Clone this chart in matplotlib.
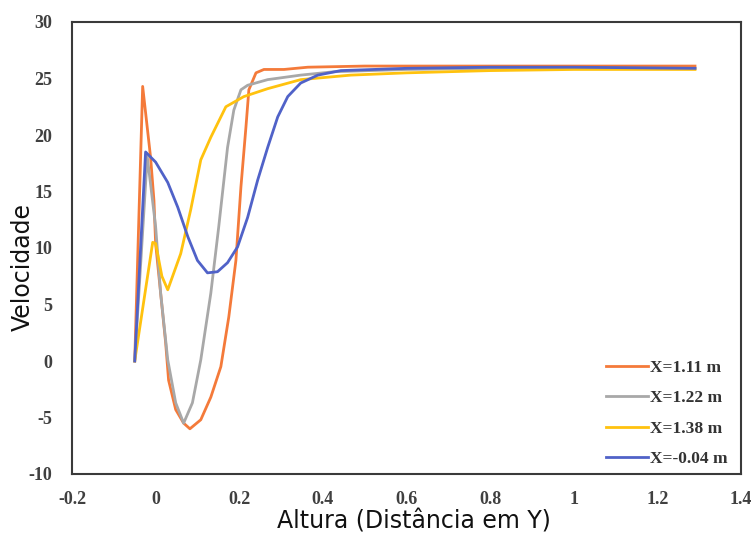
import matplotlib
matplotlib.use("Agg")
import matplotlib.pyplot as plt

plt.rcParams["axes.unicode_minus"] = False

# Data
x_111 = [-0.05, -0.031, -0.012, -0.004, 0.0, 0.012, 0.024, 0.031, 0.048, 0.067, 0.082, 0.108,
         0.132, 0.156, 0.175, 0.192, 0.204, 0.216, 0.223, 0.24, 0.259, 0.307, 0.364, 0.5, 0.7,
         0.9, 1.1, 1.29]
y_111 = [0, 24.3, 18, 14.2, 10.4, 6, 1.6, -1.7, -4.3, -5.5, -6.0, -5.2,
         -3.2, -0.5, 3.9, 8.9, 15.4, 20.7, 24, 25.5, 25.8, 25.8, 26.0, 26.1, 26.1,
         26.1, 26.1, 26.1]

x_122 = [-0.05, -0.02, 0.0, 0.012, 0.029, 0.048, 0.067, 0.088, 0.108, 0.132, 0.151, 0.172,
         0.187, 0.204, 0.22, 0.268, 0.347, 0.427, 0.6, 0.8, 1.0, 1.29]
y_122 = [0, 18.1, 11.9, 6, 0.1, -3.7, -5.5, -3.7, 0.1, 6, 11.9, 18.9,
         22.2, 24, 24.4, 24.9, 25.3, 25.6, 25.8, 25.9, 25.9, 25.9]

x_138 = [-0.05, -0.007, 0.0, 0.015, 0.029, 0.06, 0.084, 0.108, 0.132, 0.168, 0.211, 0.268,
         0.347, 0.467, 0.6, 0.8, 1.0, 1.29]
y_138 = [0, 10.5, 10.4, 7.5, 6.3, 9.5, 13.4, 17.8, 19.8, 22.5, 23.4, 24.1,
         24.9, 25.3, 25.5, 25.7, 25.8, 25.8]

x_004 = [-0.05, -0.024, 0.0, 0.029, 0.053, 0.077, 0.1, 0.124, 0.148, 0.172, 0.196, 0.22,
         0.244, 0.268, 0.292, 0.316, 0.347, 0.388, 0.443, 0.6, 0.8, 1.0, 1.29]
y_004 = [0, 18.5, 17.6, 15.8, 13.6, 11, 8.9, 7.8, 7.9, 8.7, 10.1, 12.7,
         16, 18.9, 21.6, 23.4, 24.6, 25.3, 25.7, 25.9, 26.0, 26.0, 25.9]

labels = ["X=1.11 m", "X=1.22 m", "X=1.38 m", "X=-0.04 m"]
x_ticks = [-0.2, 0, 0.2, 0.4, 0.6, 0.8, 1, 1.2, 1.4]
x_tick_labels = ["-0.2", "0", "0.2", "0.4", "0.6", "0.8", "1", "1.2", "1.4"]
y_ticks = [-10, -5, 0, 5, 10, 15, 20, 25, 30]

colors = ["#F47A3A", "#A8A8A8", "#FFC20E", "#5062C8"]

fig = plt.figure(figsize=(7.55, 5.34), dpi=100)
ax = fig.add_axes([72 / 755, 1 - 474 / 534, (741 - 72) / 755, (474 - 22) / 534])

series = [(x_111, y_111), (x_122, y_122), (x_138, y_138), (x_004, y_004)]
for (xs, ys), c, lab in zip(series, colors, labels):
    ax.plot(xs, ys, color=c, lw=2.0, label=lab, solid_joinstyle="round")

ax.set_xlim(-0.2, 1.4)
ax.set_ylim(-10, 30)
ax.set_xticks(x_ticks)
ax.set_xticklabels(x_tick_labels)
ax.set_yticks(y_ticks)
ax.set_yticklabels([str(v) for v in y_ticks])
for lab in ax.get_xticklabels() + ax.get_yticklabels():
    lab.set_fontfamily("Liberation Serif")
    lab.set_fontweight("bold")
    lab.set_fontsize(13)
    lab.set_color("#404040")
ax.tick_params(axis="both", length=0)
ax.tick_params(axis="x", pad=12)
ax.tick_params(axis="y", pad=14)

for sp in ax.spines.values():
    sp.set_color("#3a3a3a")
    sp.set_linewidth(1.5)

ax.set_xlabel("Altura (Distância em Y)", fontsize=17, fontfamily="DejaVu Sans", color="#111111")
ax.xaxis.set_label_coords((414 - 72) / 669, (474 - 522) / 452)
ax.xaxis.label.set_va("center")
ax.set_ylabel("Velocidade", fontsize=17, fontfamily="DejaVu Sans", color="#111111")
ax.yaxis.set_label_coords((23 - 72) / 669, (474 - 267) / 452)
ax.yaxis.label.set_va("center")

leg = ax.legend(loc="lower right", frameon=False,
                prop={"family": "Liberation Serif", "weight": "bold", "size": 12.5},
                handlelength=2.4, handletextpad=0.1, labelspacing=0.82,
                borderaxespad=0.0, bbox_to_anchor=(0.99, 0.0))
for t in leg.get_texts():
    t.set_color("#333333")

fig.savefig("out.png", dpi=100)
